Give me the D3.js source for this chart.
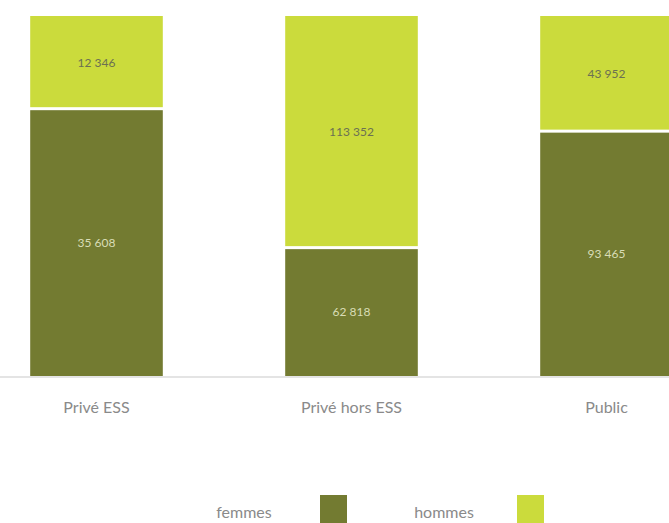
<!DOCTYPE html>
<html>
<head>
<meta charset="utf-8">
<script src="https://cdn.jsdelivr.net/npm/d3@7"></script>
<style>
  html, body { margin: 0; padding: 0; background: #fff; }
  svg { display: block; }
</style>
</head>
<body>
<svg id="chart" width="669" height="523"></svg>
<script>
// Effectifs par secteur et par sexe
const categories = ["Privé ESS", "Privé hors ESS", "Public"];
const femmes = [35608, 62818, 93465];
const hommes = [12346, 113352, 43952];
const seriesNames = ["femmes", "hommes"];
const colors = { femmes: "#737b31", hommes: "#cbdb3c" };

const svg = d3.select("#chart");
const W = 669;
const plotTop = 16, plotBottom = 376;

const rows = categories.map((c, i) => ({ cat: c, femmes: femmes[i], hommes: hommes[i] }));
const stack = d3.stack().keys(seriesNames).offset(d3.stackOffsetExpand);
const layers = stack(rows);

const x = d3.scaleBand()
  .domain(categories)
  .range([-31, 734])
  .paddingInner(0.48)
  .paddingOuter(0.24);

const y = d3.scaleLinear().domain([0, 1]).range([plotBottom, plotTop]);

const fmt = v => d3.format(",")(v).replace(/,/g, " ");
const gap = 1.5;
const font = "Lato, 'Open Sans', sans-serif";

// baseline
svg.append("line")
  .attr("x1", 0).attr("x2", W)
  .attr("y1", plotBottom + 1).attr("y2", plotBottom + 1)
  .attr("stroke", "#e4e4e4").attr("stroke-width", 2);

layers.forEach(layer => {
  const key = layer.key;
  const g = svg.append("g");
  g.selectAll("rect").data(layer).join("rect")
    .attr("x", d => x(d.data.cat))
    .attr("width", x.bandwidth())
    .attr("y", d => y(d[1]) + (d[1] < 1 ? gap : 0))
    .attr("height", d => (y(d[0]) - (d[0] > 0 ? gap : 0)) - (y(d[1]) + (d[1] < 1 ? gap : 0)))
    .attr("fill", colors[key]);
  g.selectAll("text").data(layer).join("text")
    .attr("x", d => x(d.data.cat) + x.bandwidth() / 2)
    .attr("y", d => (y(d[0]) + y(d[1])) / 2)
    .attr("dy", "0.35em")
    .attr("text-anchor", "middle")
    .attr("font-family", font)
    .attr("font-size", 12)
    .attr("fill", key === "femmes" ? "#d9ddb6" : "#6c7052")
    .text(d => fmt(d.data[key]));
});

// category axis labels
const xAxis = d3.axisBottom(x).tickSize(0).tickPadding(0);
const ax = svg.append("g").attr("transform", `translate(0,${plotBottom + 31})`).call(xAxis);
ax.select(".domain").remove();
ax.selectAll("text")
  .attr("dy", "0.35em")
  .attr("font-family", font)
  .attr("font-size", 16)
  .attr("fill", "#8a8a8a");

// legend
const legend = svg.append("g");
const legendItems = [
  { name: "femmes", tx: 244, sx: 320 },
  { name: "hommes", tx: 444, sx: 517 }
];
legendItems.forEach(it => {
  legend.append("text")
    .attr("x", it.tx).attr("y", 512)
    .attr("dy", "0.35em")
    .attr("text-anchor", "middle")
    .attr("font-family", font)
    .attr("font-size", 16)
    .attr("fill", "#8a8a8a")
    .text(it.name);
  legend.append("rect")
    .attr("x", it.sx).attr("y", 495)
    .attr("width", 27).attr("height", 28)
    .attr("fill", colors[it.name]);
});
</script>
</body>
</html>
